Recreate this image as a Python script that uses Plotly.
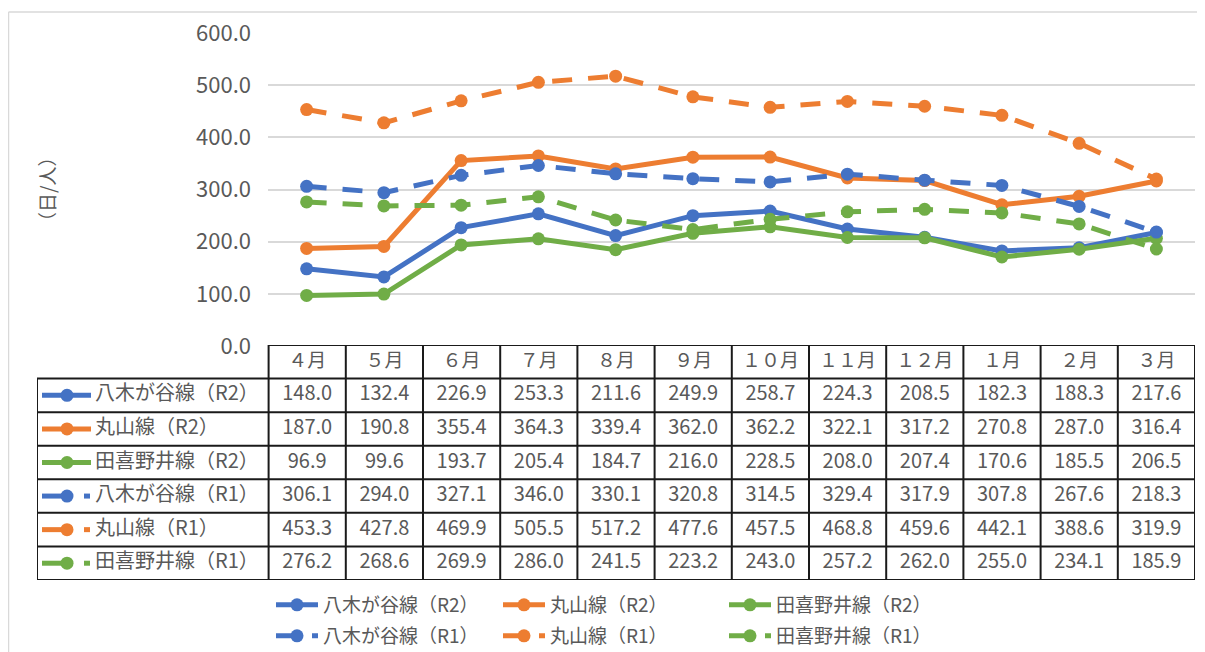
import plotly.graph_objects as go

# ---------------- data ----------------
months = ["４月", "５月", "６月", "７月", "８月", "９月", "１０月", "１１月", "１２月", "１月", "２月", "３月"]
series_names = ["八木が谷線（R2）", "丸山線（R2）", "田喜野井線（R2）",
                "八木が谷線（R1）", "丸山線（R1）", "田喜野井線（R1）"]
yagi_r2 = [148.0, 132.4, 226.9, 253.3, 211.6, 249.9, 258.7, 224.3, 208.5, 182.3, 188.3, 217.6]
maru_r2 = [187.0, 190.8, 355.4, 364.3, 339.4, 362.0, 362.2, 322.1, 317.2, 270.8, 287.0, 316.4]
takino_r2 = [96.9, 99.6, 193.7, 205.4, 184.7, 216.0, 228.5, 208.0, 207.4, 170.6, 185.5, 206.5]
yagi_r1 = [306.1, 294.0, 327.1, 346.0, 330.1, 320.8, 314.5, 329.4, 317.9, 307.8, 267.6, 218.3]
maru_r1 = [453.3, 427.8, 469.9, 505.5, 517.2, 477.6, 457.5, 468.8, 459.6, 442.1, 388.6, 319.9]
takino_r1 = [276.2, 268.6, 269.9, 286.0, 241.5, 223.2, 243.0, 257.2, 262.0, 255.0, 234.1, 185.9]
y_ticks = [0, 100, 200, 300, 400, 500, 600]
y_title = "（日/人）"

series = [yagi_r2, maru_r2, takino_r2, yagi_r1, maru_r1, takino_r1]

# ---------------- styling ----------------
W, H = 1205, 652
OFF = 8  # page body margin
FONT = "Noto Sans CJK JP"
GRAY = "#595959"
BLUE, ORANGE, GREEN = "#4472C4", "#ED7D31", "#70AD47"
colors = [BLUE, ORANGE, GREEN, BLUE, ORANGE, GREEN]
DASH = "20px,16px"
dashes = ["solid", "solid", "solid", DASH, DASH, DASH]


def fx(p):
    return (p - OFF) / W


def fy(p):
    return 1 - (p - OFF) / H


def tx(p):
    """reference pixel x -> table axis (x2) units"""
    return -3.5 + (p - 37) / ((1195 - 37) / 15)


fig = go.Figure()
xs = list(range(len(months)))

# legend positions (px): column x, row y centre
leg_x = [271, 498, 724, 271, 498, 724]
leg_y = [605, 605, 605, 636, 636, 636]
legend_names = ["legend", "legend2", "legend3", "legend4", "legend5", "legend6"]

for i, (name, vals) in enumerate(zip(series_names, series)):
    fig.add_trace(go.Scatter(
        x=xs, y=vals, name=name, mode="lines+markers",
        line=dict(color=colors[i], width=5, dash=dashes[i]),
        marker=dict(color=colors[i], size=13),
        xaxis="x", yaxis="y", legend=legend_names[i],
    ))

# ---------------- table (on x2/y2) ----------------
fig.add_trace(go.Scatter(
    x=xs, y=[0.5] * len(months), text=months, mode="text",
    textfont=dict(family=FONT, size=19, color=GRAY),
    xaxis="x2", yaxis="y2", showlegend=False, hoverinfo="skip"))

for r, (name, vals) in enumerate(zip(series_names, series)):
    yr = r + 1.5
    fig.add_trace(go.Scatter(
        x=xs, y=[yr] * len(vals), text=[f"{v:.1f}" for v in vals], mode="text",
        textfont=dict(family=FONT, size=20, color=GRAY),
        xaxis="x2", yaxis="y2", showlegend=False, hoverinfo="skip"))
    fig.add_trace(go.Scatter(
        x=[tx(95)], y=[yr], text=[name], mode="text", textposition="middle right",
        textfont=dict(family=FONT, size=20, color=GRAY),
        xaxis="x2", yaxis="y2", showlegend=False, hoverinfo="skip"))
    # key sample
    if r < 3:
        segs = [[tx(42), tx(91)]]
    else:
        segs = [[tx(42), tx(67)], [tx(84), tx(90)]]
    for sx in segs:
        fig.add_trace(go.Scatter(
            x=sx, y=[yr, yr], mode="lines",
            line=dict(color=colors[r], width=5),
            xaxis="x2", yaxis="y2", showlegend=False, hoverinfo="skip"))
    fig.add_trace(go.Scatter(
        x=[tx(67)], y=[yr], mode="markers",
        marker=dict(color=colors[r], size=13),
        xaxis="x2", yaxis="y2", showlegend=False, hoverinfo="skip"))

shapes = []
BL = dict(color="#1a1a1a", width=2)
n = len(months)
shapes.append(dict(type="line", xref="x2", yref="y2", x0=-0.5, x1=n - 0.5, y0=0, y1=0, line=BL))
for k in range(1, 8):
    shapes.append(dict(type="line", xref="x2", yref="y2", x0=-3.5, x1=n - 0.5, y0=k, y1=k, line=BL))
for c in range(n + 1):
    shapes.append(dict(type="line", xref="x2", yref="y2", x0=c - 0.5, x1=c - 0.5, y0=0, y1=7, line=BL))
shapes.append(dict(type="line", xref="x2", yref="y2", x0=-3.5, x1=-3.5, y0=1, y1=7, line=BL))

FR = dict(color="#D9D9D9", width=1.5)
shapes.append(dict(type="line", xref="paper", yref="paper", x0=fx(8.5), x1=fx(8.5), y0=fy(12), y1=0, line=FR))
shapes.append(dict(type="line", xref="paper", yref="paper", x0=fx(8.5), x1=1, y0=fy(12), y1=fy(12), line=FR))

layout = dict(
    width=W, height=H, autosize=False,
    margin=dict(l=0, r=0, t=0, b=0, autoexpand=False),
    paper_bgcolor="white", plot_bgcolor="rgba(0,0,0,0)",
    font=dict(family=FONT, color=GRAY),
    xaxis=dict(domain=[fx(268), fx(1195)], range=[-0.5, n - 0.5], anchor="y",
               showgrid=False, showticklabels=False, zeroline=False, showline=False),
    yaxis=dict(domain=[fy(346), fy(33)], range=[0, 600], anchor="x",
               tickvals=y_ticks, ticktext=[f"{v:.1f}" for v in y_ticks],
               tickfont=dict(family=FONT, size=22, color=GRAY),
               showgrid=True, gridcolor="#D9D9D9", gridwidth=1.5,
               zeroline=False, showline=False, ticks="", ticklabelstandoff=16),
    xaxis2=dict(domain=[fx(37), fx(1195)], range=[-3.5, n - 0.5], anchor="y2", visible=False),
    yaxis2=dict(domain=[fy(580), fy(345)], range=[7, 0], anchor="x2", visible=False),
    shapes=shapes,
    annotations=[dict(text=y_title, x=fx(47), y=fy(190), xref="paper", yref="paper",
                      xanchor="center", yanchor="middle",
                      showarrow=False, textangle=-90,
                      font=dict(family=FONT, size=19, color=GRAY))],
    hovermode=False,
)
for i, ln in enumerate(legend_names):
    layout[ln] = dict(x=fx(leg_x[i]), y=fy(leg_y[i]), xanchor="left", yanchor="middle",
                      bgcolor="rgba(0,0,0,0)", borderwidth=0, itemwidth=42,
                      font=dict(family=FONT, size=19, color=GRAY))
fig.update_layout(**layout)

fig.write_html("out.html")
